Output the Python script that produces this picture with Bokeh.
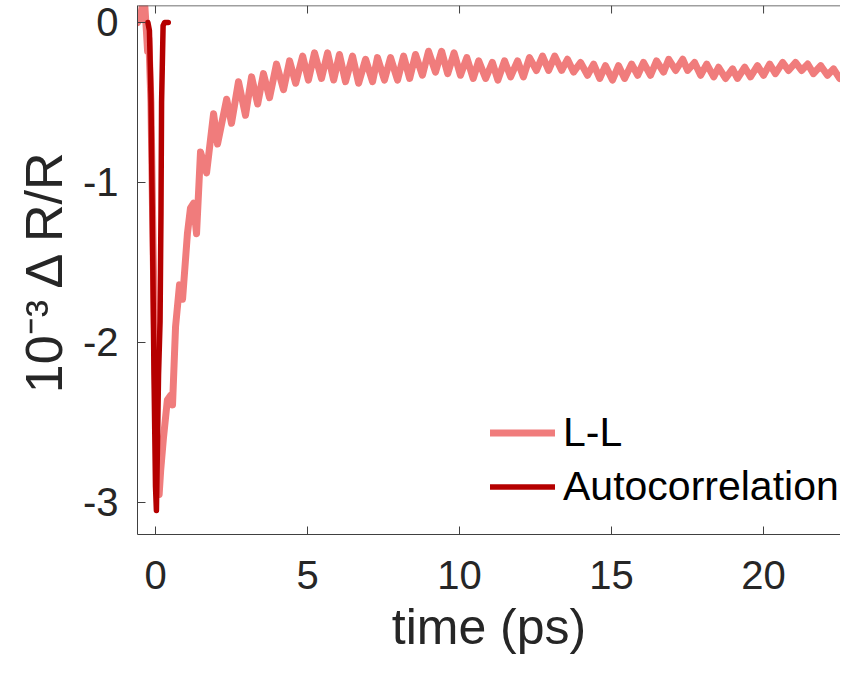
from bokeh.plotting import figure
from bokeh.models import Range1d, FixedTicker, Legend, LegendItem, Span
from bokeh.embed import file_html
from bokeh.resources import INLINE

# ---- data ----
ll_t = [-0.59, -0.5, -0.42, -0.35, -0.3, -0.26, -0.22, -0.15, -0.08, 0.0, 0.07, 0.12, 0.17,
        0.26, 0.39, 0.5, 0.56, 0.66, 0.79, 0.89, 1.05, 1.15, 1.25, 1.35, 1.48, 1.68, 1.91,
        2.04, 2.34, 2.5, 2.73, 2.96, 3.16, 3.36, 3.55, 3.75, 3.98, 4.21, 4.41, 4.61, 4.84,
        5.03, 5.23, 5.46, 5.66, 5.86, 6.05, 6.25, 6.48, 6.68, 6.91, 7.14, 7.30, 7.53, 7.73,
        7.96, 8.16, 8.36, 8.55, 8.78, 8.98, 9.21, 9.41, 9.61, 9.82, 10.03, 10.24, 10.45,
        10.63, 10.86, 11.08, 11.26, 11.48, 11.68, 11.91, 12.1, 12.3, 12.53, 12.73, 12.93,
        13.13, 13.36, 13.55, 13.75, 13.98, 14.21, 14.41, 14.61, 14.8, 15.03, 15.23, 15.43,
        15.66, 15.86, 16.05, 16.28, 16.48, 16.71, 16.88, 17.11, 17.34, 17.5, 17.73, 17.93,
        18.13, 18.36, 18.52, 18.75, 18.98, 19.14, 19.38, 19.57, 19.8, 20.0, 20.2, 20.39,
        20.63, 20.82, 21.05, 21.25, 21.45, 21.64, 21.88, 22.1, 22.3, 22.5, 22.7, 22.86, 23.03]
ll_y = [0.0, 0.03, 0.12, 0.1, -0.05, -0.18, -0.1, -0.5, -1.4, -2.3, -2.85, -2.95, -2.8,
        -2.6, -2.36, -2.33, -2.39, -1.9, -1.64, -1.73, -1.32, -1.16, -1.13, -1.32, -0.81,
        -0.94, -0.57, -0.76, -0.48, -0.63, -0.37, -0.58, -0.34, -0.51, -0.32, -0.47, -0.26,
        -0.42, -0.24, -0.38, -0.21, -0.36, -0.19, -0.35, -0.19, -0.36, -0.20, -0.37, -0.21,
        -0.38, -0.23, -0.37, -0.22, -0.36, -0.22, -0.36, -0.21, -0.35, -0.20, -0.33, -0.18,
        -0.31, -0.18, -0.32, -0.19, -0.33, -0.22, -0.35, -0.24, -0.35, -0.25, -0.36, -0.24,
        -0.34, -0.24, -0.34, -0.22, -0.30, -0.21, -0.30, -0.21, -0.30, -0.23, -0.31, -0.25,
        -0.33, -0.26, -0.35, -0.27, -0.36, -0.27, -0.35, -0.26, -0.33, -0.25, -0.33, -0.24,
        -0.31, -0.23, -0.30, -0.23, -0.30, -0.25, -0.33, -0.26, -0.34, -0.28, -0.35, -0.29,
        -0.35, -0.28, -0.34, -0.27, -0.33, -0.26, -0.32, -0.25, -0.30, -0.25, -0.30, -0.26,
        -0.32, -0.27, -0.33, -0.29, -0.35, -0.30, -0.35, -0.32]

auto_t = [-0.25, -0.2, -0.15, -0.1, -0.05, 0.0, 0.03, 0.06, 0.1, 0.15, 0.18, 0.2, 0.25, 0.3, 0.42]
auto_y = [0.0, -0.05, -0.45, -1.3, -2.2, -2.9, -3.05, -2.7, -2.2, -1.87, -1.2, -0.5, -0.02, 0.0, 0.0]

x_ticks = [0, 5, 10, 15, 20]
y_ticks = [-3, -2, -1, 0]
y_tick_labels = {-3: "-3", -2: "-2", -1: "-1", 0: "0"}

series_labels = ["L-L", "Autocorrelation"]
series_colors = ["#F07C7C", "#B50000"]

X0, X1 = -0.592, 22.53
Y0, Y1 = -3.2, 0.106

FONT = "Liberation Sans"
TXT = "#262626"
AX = "#404040"

p = figure(width=840, height=657, output_backend="svg", toolbar_location=None,
           x_range=Range1d(X0, X1), y_range=Range1d(Y0, Y1),
           min_border_left=137, min_border_right=0, min_border_top=5, min_border_bottom=123)
p.outline_line_color = None
p.xgrid.visible = False
p.ygrid.visible = False
p.background_fill_color = "white"
p.border_fill_color = "white"

r1 = p.line(ll_t, ll_y, line_color=series_colors[0], line_width=7, line_join="round", line_cap="round")
r2 = p.line(auto_t, auto_y, line_color=series_colors[1], line_width=5.5, line_join="round", line_cap="round")

# top frame edge with inward ticks (no labels)
p.add_layout(Span(location=Y1, dimension="width", line_color=AX, line_width=1.5))
tick_len = 8 / 160.0  # 8 px in y-data units for this frame
p.segment(x0=x_ticks, x1=x_ticks, y0=[Y1] * len(x_ticks), y1=[Y1 - tick_len] * len(x_ticks),
          line_color=AX, line_width=1)

for ax in (p.xaxis[0], p.yaxis[0]):
    ax.major_tick_in = 8
    ax.major_tick_out = 0
    ax.minor_tick_line_color = None
    ax.axis_line_color = AX
    ax.major_tick_line_color = AX
    ax.major_label_text_font = FONT
    ax.major_label_text_font_size = "40px"
    ax.major_label_text_color = TXT
    ax.axis_label_text_font = FONT
    ax.axis_label_text_font_style = "normal"
    ax.axis_label_text_color = TXT

p.xaxis[0].ticker = FixedTicker(ticks=x_ticks)
p.xaxis[0].major_label_standoff = 26
p.xaxis[0].axis_label = "time (ps)"
p.xaxis[0].axis_label_text_font_size = "50px"
p.xaxis[0].axis_label_standoff = 7

p.yaxis[0].ticker = FixedTicker(ticks=y_ticks)
p.yaxis[0].major_label_overrides = y_tick_labels
p.yaxis[0].major_label_standoff = 19
p.yaxis[0].axis_label = "10\u207B\u00B3 \u0394 R/R"
p.yaxis[0].axis_label_text_font_size = "52px"
p.yaxis[0].axis_label_standoff = 7

legend = Legend(items=[LegendItem(label=series_labels[0], renderers=[r1]),
                       LegendItem(label=series_labels[1], renderers=[r2])],
                location=(353, 24), padding=0, margin=0, spacing=7,
                glyph_width=65, glyph_height=45, label_height=45, label_standoff=8,
                label_text_font=FONT, label_text_font_size="41px", label_text_color="black",
                border_line_color=None, background_fill_alpha=0)
p.add_layout(legend, "center")

open("out.html", "w").write(file_html(p, INLINE))
